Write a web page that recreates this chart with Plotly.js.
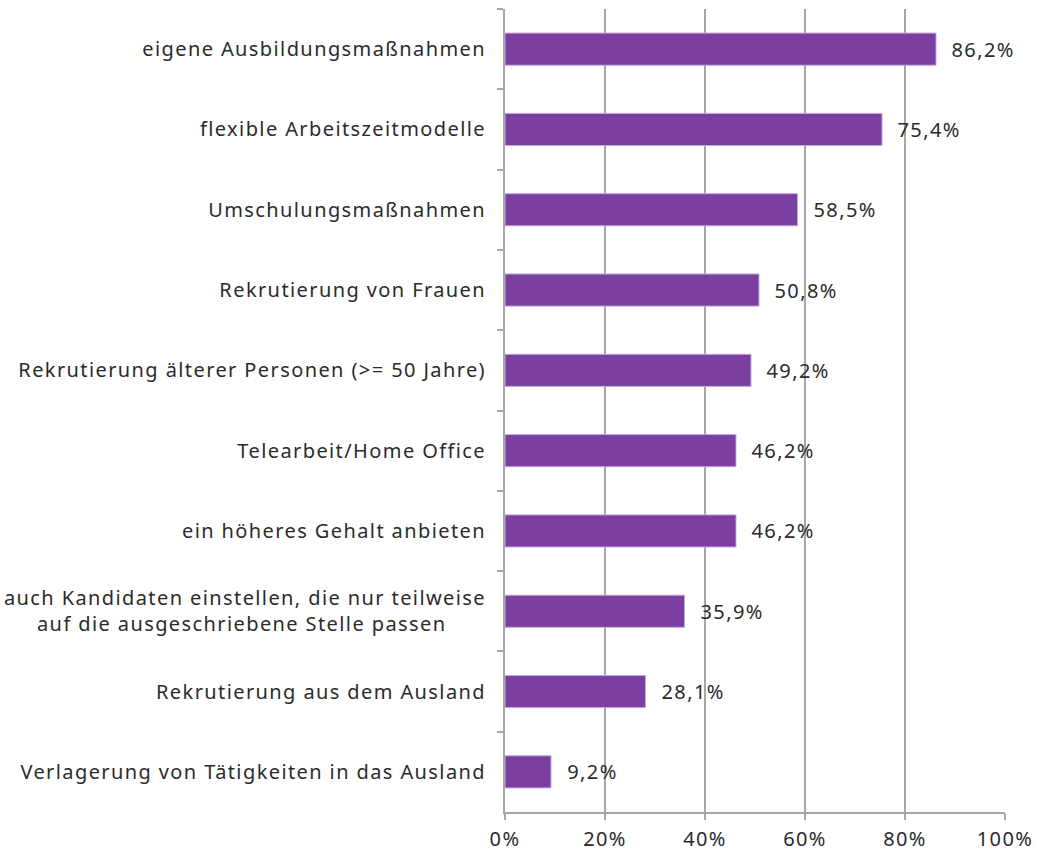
<!DOCTYPE html>
<html>
<head>
<meta charset="utf-8">
<script src="https://cdn.plot.ly/plotly-3.0.1.min.js"></script>
<style>
html,body{margin:0;padding:0;background:#fff;}
#chart{width:1042px;height:855px;}
#chart text{letter-spacing:1.4px;}
</style>
</head>
<body>
<div id="chart"></div>
<script>
const categories = [
  "eigene Ausbildungsmaßnahmen",
  "flexible Arbeitszeitmodelle",
  "Umschulungsmaßnahmen",
  "Rekrutierung von Frauen",
  "Rekrutierung älterer Personen (>= 50 Jahre)",
  "Telearbeit/Home Office",
  "ein höheres Gehalt anbieten",
  "auch Kandidaten einstellen, die nur teilweise<br>auf die ausgeschriebene Stelle passen" + "\u00a0".repeat(6),
  "Rekrutierung aus dem Ausland",
  "Verlagerung von Tätigkeiten in das Ausland"
];
const values = [86.2, 75.4, 58.5, 50.8, 49.2, 46.2, 46.2, 35.9, 28.1, 9.2];
const xTickVals = [0, 20, 40, 60, 80, 100];
const xTickText = ["0%", "20%", "40%", "60%", "80%", "100%"];

const fontFamily = "'Noto Sans', sans-serif";
const textColor = "#2b2b2b";
const gridColor = "#a6a6a6";

const labels = values.map(v => v.toFixed(1).replace('.', ',') + '%');

const annotations = values.map((v, i) => ({
  x: v, y: categories[i], xref: 'x', yref: 'y',
  text: labels[i], showarrow: false, xanchor: 'left', xshift: 17,
  font: {family: fontFamily, size: 20, color: textColor}
}));

const data = [{
  type: 'bar',
  orientation: 'h',
  x: values,
  y: categories,
  marker: {color: '#7a3fa1', line: {color: '#c9a6dd', width: 1}},
  hoverinfo: 'skip'
}];

const layout = {
  width: 1042, height: 855,
  margin: {l: 505, r: 37, t: 9, b: 43, pad: 0},
  paper_bgcolor: '#fff', plot_bgcolor: '#fff',
  showlegend: false,
  bargap: 0.6,
  font: {family: fontFamily, size: 20, color: textColor},
  xaxis: {
    range: [0, 100], tickvals: xTickVals, ticktext: xTickText,
    showgrid: true, gridcolor: gridColor, gridwidth: 2,
    zeroline: false,
    showline: true, linecolor: gridColor, linewidth: 2,
    ticks: 'outside', ticklen: 6, tickcolor: gridColor, tickwidth: 2,
    ticklabelstandoff: 2,
    tickfont: {family: fontFamily, size: 20, color: textColor},
    fixedrange: true
  },
  yaxis: {
    type: 'category', autorange: 'reversed',
    showgrid: false, zeroline: false,
    showline: true, linecolor: gridColor, linewidth: 2,
    ticks: 'outside', tickson: 'boundaries', ticklen: 6, tickcolor: gridColor, tickwidth: 2,
    ticklabelstandoff: 13,
    tickfont: {family: fontFamily, size: 20, color: textColor},
    fixedrange: true
  },
  annotations: annotations
};

Plotly.newPlot('chart', data, layout, {displayModeBar: false, staticPlot: true});
</script>
</body>
</html>
